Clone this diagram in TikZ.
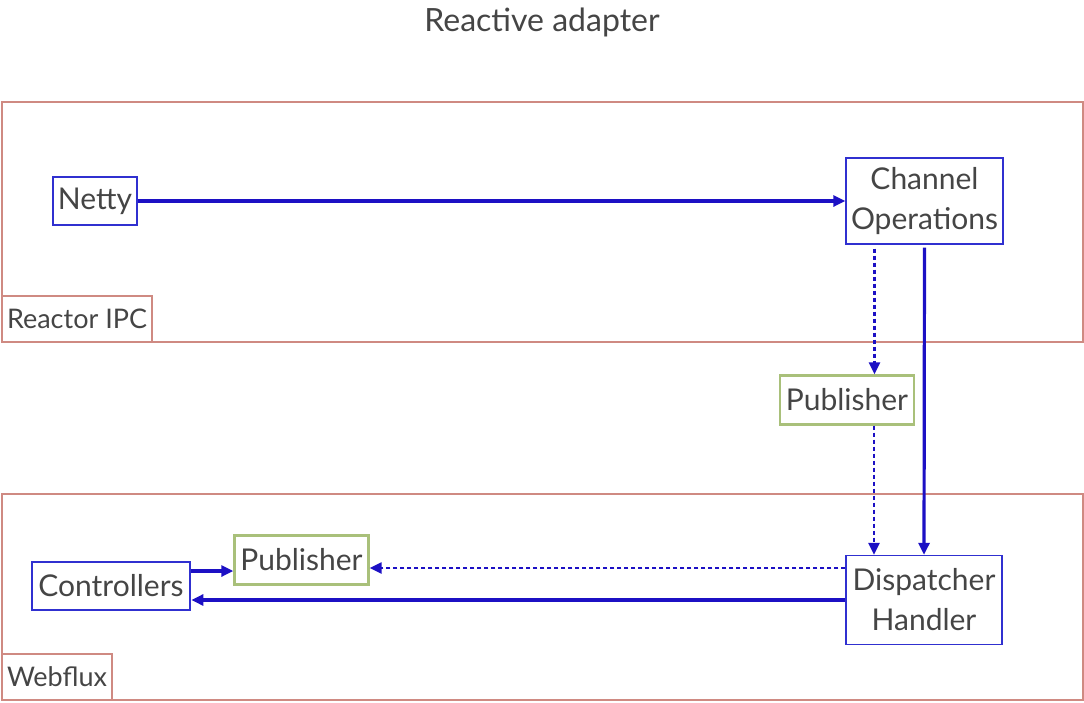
\documentclass[tikz,border=0pt]{standalone}
\usepackage{fontspec}
\setmainfont{Lato}
\usetikzlibrary{arrows.meta}
\definecolor{frameclr}{HTML}{CF8A82}
\definecolor{lineclr}{HTML}{1C10C4}
\definecolor{boxclr}{HTML}{3030D0}
\definecolor{pubclr}{HTML}{A9C07A}
\definecolor{txtclr}{HTML}{454545}
\tikzset{
frame/.style={draw=frameclr, line width=2.2pt},
framelabel/.style={draw=frameclr, line width=2.2pt, text=txtclr,
    font=\fontsize{27}{30}\selectfont, anchor=south west, inner xsep=5pt,
    minimum height=46pt},
block/.style={draw=boxclr, line width=1.4pt, text=txtclr, align=center,
    font=\fontsize{30}{40}\selectfont, inner sep=2pt},
pub/.style={block, draw=pubclr, line width=2.4pt, minimum width=134pt, minimum height=49pt},
flow/.style={draw=lineclr, line width=3.2pt, -{Triangle[length=12pt,width=11pt]}},
flowdot/.style={flow, line width=2.4pt, dash pattern=on 4pt off 3pt}
}

\begin{document}
\begin{tikzpicture}[x=1pt, y=-1pt]
	\useasboundingbox (0,0) rectangle (1084,702);
	\node[text=txtclr, font=\fontsize{32}{36}\selectfont] (title) at (542,22) {Reactive adapter};
	% frames
	\node[frame, minimum width=1081pt, minimum height=240pt] (ipc) at (542.5,222) {};
	\node[framelabel] (ipclbl) at (ipc.south west) {Reactor IPC};
	\node[frame, minimum width=1081pt, minimum height=206pt] (webflux) at (542.5,597) {};
	\node[framelabel] (webfluxlbl) at (webflux.south west) {Webflux};
	% blocks
	\node[block, minimum width=84pt, minimum height=48pt] (netty) at (95,201) {Netty};
	\node[block, minimum width=157pt, minimum height=86pt] (chanops) at (924.5,201) {Channel\\Operations};
	\node[pub] (pubtop) at (847,400) {Publisher};
	\node[block, minimum width=156pt, minimum height=89pt] (disp) at (924,600) {Dispatcher\\Handler};
	\node[block, line width=2.8pt, minimum width=158pt, minimum height=48pt] (ctrl) at (111,586) {Controllers};
	\node[pub] (pubbot) at (301.5,560) {Publisher};
	% connectors
	\draw[flow] (netty) -- (chanops);
	\draw[flowdot, shorten <=4pt] ([xshift=-50pt]chanops.south) -- ([xshift=-50pt]chanops.south |- pubtop.north);
	\draw[flow, shorten <=3pt] (chanops.south) -- (disp.north);
	\draw[flowdot] ([xshift=-50pt]disp.north |- pubtop.south) -- ([xshift=-50pt]disp.north);
	\draw[flowdot] ([yshift=-8pt]disp.west |- pubbot.east) -- ([yshift=-8pt]pubbot.east);
	\draw[flow] (disp.west) -- (disp.west -| ctrl.east);
	\draw[flow] ([yshift=15pt]ctrl.east) -- ([yshift=15pt]ctrl.east -| pubbot.west);
\end{tikzpicture}
\end{document}
